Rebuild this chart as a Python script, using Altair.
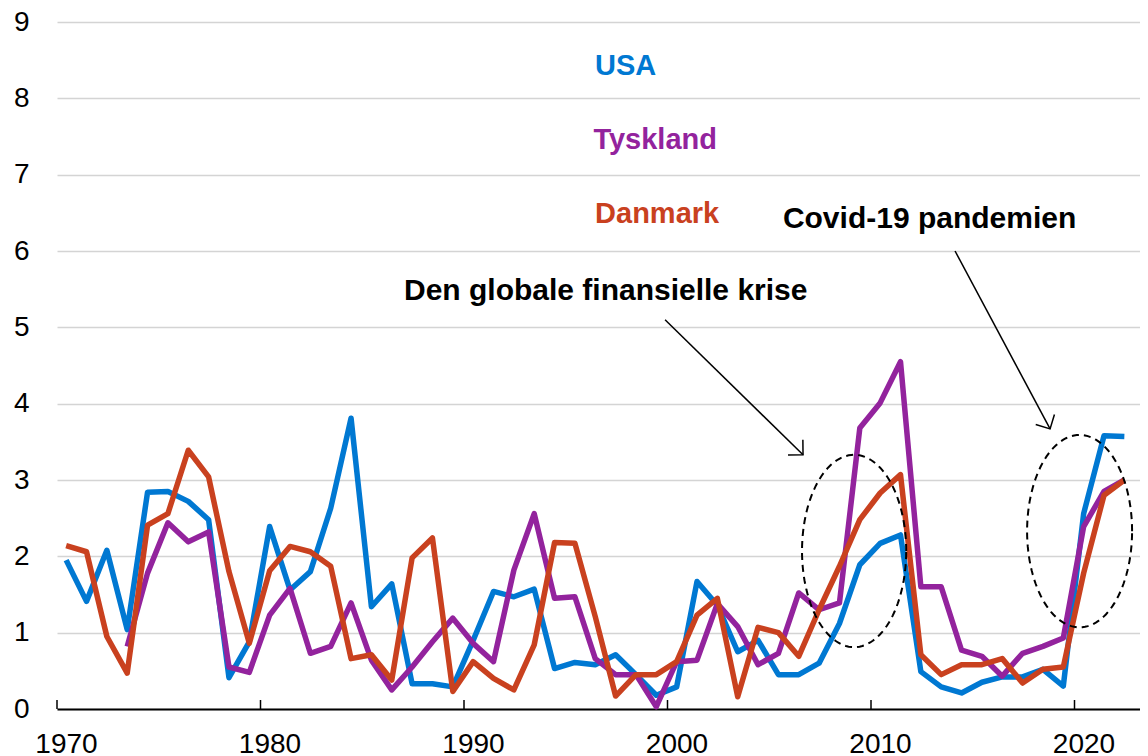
import altair as alt
import pandas as pd
import numpy as np

# ---------------- data ----------------
years = list(range(1970, 2023))

usa = [1.95, 1.41, 2.08, 1.04, 2.84, 2.85, 2.72, 2.48, 0.41, 0.88,
       2.39, 1.56, 1.80, 2.63, 3.81, 1.34, 1.64, 0.33, 0.33, 0.29,
       0.90, 1.54, 1.47, 1.57, 0.53, 0.61, 0.58, 0.71, 0.45, 0.18,
       0.29, 1.67, 1.36, 0.75, 0.90, 0.45, 0.45, 0.60, 1.12, 1.89,
       2.17, 2.28, 0.49, 0.29, 0.21, 0.35, 0.42, 0.42, 0.52, 0.30,
       2.56, 3.58, 3.57]

tyskland = [None, None, None, 0.82, 1.78, 2.44, 2.19, 2.32, 0.55, 0.48,
            1.23, 1.58, 0.73, 0.82, 1.39, 0.64, 0.25, 0.55, 0.88, 1.19,
            0.86, 0.62, 1.82, 2.56, 1.45, 1.47, 0.66, 0.45, 0.45, 0.03,
            0.62, 0.64, 1.38, 1.08, 0.58, 0.73, 1.52, 1.30, 1.39, 3.68,
            4.01, 4.55, 1.60, 1.60, 0.77, 0.69, 0.43, 0.73, 0.82, 0.93,
            2.39, 2.85, 3.00]

danmark = [2.14, 2.06, 0.95, 0.47, 2.41, 2.56, 3.39, 3.04, 1.80, 0.86,
           1.81, 2.13, 2.06, 1.87, 0.66, 0.71, 0.38, 1.98, 2.24, 0.23,
           0.62, 0.40, 0.25, 0.84, 2.18, 2.17, 1.21, 0.17, 0.45, 0.45,
           0.62, 1.23, 1.45, 0.16, 1.07, 1.00, 0.69, 1.30, 1.87, 2.48,
           2.83, 3.07, 0.71, 0.45, 0.58, 0.58, 0.66, 0.34, 0.52, 0.55,
           1.78, 2.80, 3.00]

series_names = ["USA", "Tyskland", "Danmark"]
series_colors = ["#0078D2", "#93239D", "#C9411F"]

decades = [1970, 1980, 1990, 2000, 2010, 2020]
y_ticks = list(range(0, 10))

annotation_texts = ["Den globale finansielle krise", "Covid-19 pandemien"]

# ---------------- layout ----------------
W, H = 1083, 687
PX_PER_YEAR = 20.35
PX_PER_UNIT = H / 9.0
X_MIN = 1970
X_MAX = X_MIN + W / PX_PER_YEAR
FONT = "Liberation Sans, Arial, sans-serif"

rows = []
for name, vals in zip(series_names, [usa, tyskland, danmark]):
    for yr, v in zip(years, vals):
        if v is not None:
            rows.append({"year": yr, "value": v, "series": name})
df = pd.DataFrame(rows)

xs = alt.Scale(domain=[X_MIN, X_MAX], nice=False, zero=False)
ys = alt.Scale(domain=[0, 9], nice=False, zero=True)

x_axis = alt.Axis(values=decades, format="d", grid=False, ticks=False,
                  domain=True, domainColor="black", domainWidth=2,
                  labelFontSize=28, labelColor="black", labelFont=FONT,
                  labelPadding=21, labelOffset=9, labelBaseline="top",
                  labelFlush=False, title=None)
y_axis = alt.Axis(values=y_ticks, grid=True, gridColor="#d4d4d4", gridWidth=1.5,
                  domain=False, ticks=False, labelFontSize=28, labelColor="black",
                  labelFont=FONT, labelPadding=28, title=None)


def X(field):
    return alt.X(field, scale=xs, axis=x_axis, title=None)


def Y(field):
    return alt.Y(field, scale=ys, axis=y_axis, title=None)


# upward tick marks at decades
ticks_df = pd.DataFrame({"year": decades})
tick_marks = alt.Chart(ticks_df).mark_rule(color="black", strokeWidth=1.5).encode(
    x=X("year:Q"),
    y=alt.datum(0, scale=ys, axis=y_axis),
    y2=alt.value(H - 9),
)

# series lines (mid-year positions)
lines = []
for name, col in zip(series_names, series_colors):
    lines.append(
        alt.Chart(df).transform_filter(alt.datum.series == name)
        .transform_calculate(xm="datum.year + 0.45")
        .mark_line(color=col, strokeWidth=5.5, strokeJoin="round")
        .encode(x=X("xm:Q"), y=Y("value:Q"))
    )

# series labels
lab_df = pd.DataFrame({"x": [1996.44, 1996.36, 1996.44],
                       "y": [8.31, 7.33, 6.37],
                       "label": series_names,
                       "color": series_colors})
labels = alt.Chart(lab_df).mark_text(align="left", baseline="alphabetic",
                                     fontSize=29, fontWeight="bold", font=FONT).encode(
    x=X("x:Q"), y=Y("y:Q"),
    text="label:N",
    color=alt.Color("color:N", scale=None),
)

# annotation texts
ann_df = pd.DataFrame({"x": [1987.05, 2005.67], "y": [5.36, 6.30],
                       "label": annotation_texts})
ann = alt.Chart(ann_df).mark_text(align="left", baseline="alphabetic", fontSize=30,
                                  fontWeight="bold", font=FONT, color="black").encode(
    x=X("x:Q"), y=Y("y:Q"),
    text="label:N",
)

# arrows
arrow_x0 = [1999.88, 2014.13]
arrow_y0 = [5.10, 6.00]
arrow_x1 = [2006.66, 2018.80]
arrow_y1 = [3.33, 3.67]
arr_df = pd.DataFrame({"x": arrow_x0, "y": arrow_y0, "x2": arrow_x1, "y2": arrow_y1})
arrow_lines = alt.Chart(arr_df).mark_rule(color="black", strokeWidth=1.5).encode(
    x=X("x:Q"), y=Y("y:Q"), x2="x2:Q", y2="y2:Q",
)
heads = []
for i in range(2):
    ang = np.degrees(np.arctan2((arrow_y0[i] - arrow_y1[i]) * PX_PER_UNIT,
                                (arrow_x1[i] - arrow_x0[i]) * PX_PER_YEAR))
    hd = pd.DataFrame({"x": [arrow_x1[i]], "y": [arrow_y1[i]]})
    heads.append(
        alt.Chart(hd).mark_point(shape="M -1,-1 L 0,0 L -1,1", filled=False,
                                 size=450, strokeWidth=1.5, color="black",
                                 angle=float(ang), opacity=1)
        .encode(x=X("x:Q"), y=Y("y:Q"))
    )

# dashed ellipses
ell_cx = [2009.17, 2020.25]
ell_cy = [2.07, 2.33]
ell_rx = [2.56, 2.58]
ell_ry = [1.26, 1.26]
t = np.linspace(0, 2 * np.pi, 121)
ell_rows = []
for k in range(2):
    for j, tt in enumerate(t):
        ell_rows.append({"id": k, "i": j,
                         "x": ell_cx[k] + ell_rx[k] * np.cos(tt),
                         "y": ell_cy[k] + ell_ry[k] * np.sin(tt)})
ell_df = pd.DataFrame(ell_rows)
ellipses = alt.Chart(ell_df).mark_line(color="black", strokeWidth=2,
                                       strokeDash=[7, 5]).encode(
    x=X("x:Q"), y=Y("y:Q"),
    detail="id:N", order="i:Q",
)

chart = alt.layer(tick_marks, *lines, labels, ann, arrow_lines, *heads, ellipses).properties(
    width=W, height=H,
    autosize=alt.AutoSizeParams(type="none"),
    padding={"left": 49, "top": 14, "right": 0, "bottom": 60},
).configure(font=FONT).configure_view(stroke=None)

chart.save("out.html", embed_options={"renderer": "svg", "actions": False})
